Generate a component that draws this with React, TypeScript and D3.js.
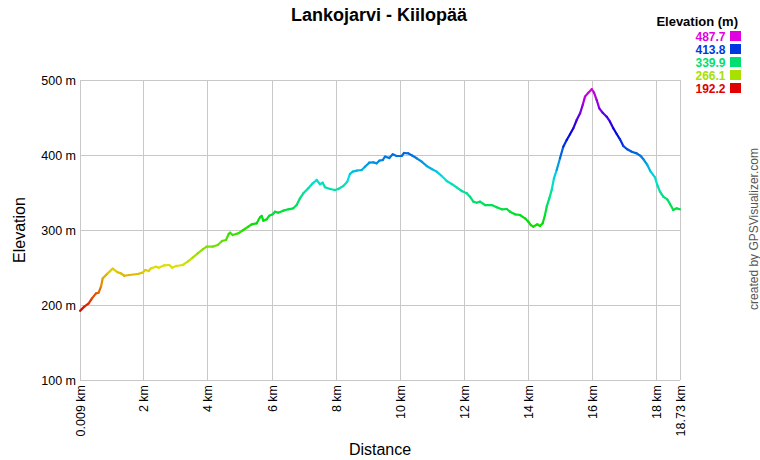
import React from "react";
import * as d3 from "d3";

const distKm = [
  0.009, 0.143, 0.28, 0.383, 0.508, 0.59, 0.664, 0.717, 0.873, 1.029, 1.185, 1.288, 1.391, 1.547, 1.809, 1.965,
  2.046, 2.152, 2.224, 2.38, 2.465, 2.639, 2.795, 2.88, 3.004, 3.213, 3.369, 3.525, 3.681, 3.837, 3.962,
  4.149, 4.305, 4.44, 4.564, 4.649, 4.689, 4.773, 4.876, 4.948, 5.104, 5.26, 5.366, 5.522, 5.625, 5.678,
  5.728, 5.834, 5.915, 6.021, 6.093, 6.196, 6.352, 6.508, 6.664, 6.77, 6.873, 6.976, 7.132, 7.27, 7.394,
  7.497, 7.582, 7.653, 7.809, 7.965, 8.068, 8.224, 8.349, 8.433, 8.518, 8.642, 8.798, 8.901, 9.036, 9.16,
  9.266, 9.347, 9.453, 9.525, 9.66, 9.766, 9.89, 10.046, 10.118, 10.252, 10.358, 10.515, 10.671, 10.826,
  10.983, 11.139, 11.295, 11.451, 11.607, 11.763, 11.919, 12.075, 12.178, 12.281, 12.386, 12.49, 12.645,
  12.855, 13.011, 13.167, 13.323, 13.425, 13.581, 13.737, 13.893, 13.997, 14.071, 14.152, 14.277, 14.361,
  14.446, 14.517, 14.571, 14.652, 14.726, 14.798, 14.883, 14.986, 15.089, 15.195, 15.298, 15.401, 15.507,
  15.612, 15.694, 15.766, 15.869, 15.975, 16.047, 16.131, 16.212, 16.318, 16.443, 16.546, 16.649, 16.755,
  16.858, 16.961, 17.086, 17.223, 17.379, 17.504, 17.607, 17.71, 17.815, 17.95, 18.021, 18.105, 18.208,
  18.333, 18.418, 18.521, 18.627, 18.73,
];

const elevM = [
  192.2, 197.8, 202.2, 208.9, 215.5, 216.4, 224.4, 235.5, 242.2, 248.5, 243.6, 242.2, 239, 240, 241.3, 243.1,
  246.7, 245.3, 248.9, 251.1, 249.8, 252.9, 253.3, 249.8, 252, 253.3, 257.8, 263.1, 268.9, 274.2, 277.8,
  277.8, 280, 285.3, 286.7, 294.7, 296.4, 293.3, 294.7, 295.6, 300, 304.4, 307.6, 308.9, 316.9, 318.7,
  312.4, 314.2, 319.1, 320.9, 324.4, 323.1, 325.8, 327.6, 328.9, 333.3, 342.2, 348.9, 355.6, 362.2, 366.7,
  361, 363.1, 356.9, 354.7, 353.3, 354.7, 358.7, 364.4, 374.7, 377.8, 379.1, 380, 384.4, 389.8, 390.2,
  388.9, 392.4, 393.3, 397.8, 396, 400.9, 398.7, 398.7, 402.7, 402.2, 399.6, 395.6, 391.1, 385.3,
  381.3, 377.8, 372, 365.3, 361.3, 356.9, 352, 348.9, 344.4, 337.8, 336.4, 337.8, 333.3,
  333.3, 330.2, 327.6, 328, 324.4, 320.9, 320, 315.6, 311.1, 306.7, 304.4, 307.6, 305.3,
  309, 320, 331.1, 342.2, 353.3, 368.9, 380, 395.6, 411.1, 420, 427.6, 435.6, 446.7,
  455.6, 466.7, 477.8, 483.1, 487.7, 483.1, 473.3, 462.2, 456.4, 451.1, 444.4, 435.6, 428,
  420.9, 412, 407.6, 404.4, 402.2, 398.7, 393.3, 386.7, 377.8, 370.2, 360, 351.1, 344.4,
  340.9, 334.7, 326.7, 328.9, 327.6,
];

const xTickValues = [0.009, 2, 4, 6, 8, 10, 12, 14, 16, 18, 18.73];
const xTickLabels = ["0.009 km", "2 km", "4 km", "6 km", "8 km", "10 km", "12 km", "14 km", "16 km", "18 km", "18.73 km"];
const yTickValues = [100, 200, 300, 400, 500];
const yTickLabels = ["100 m", "200 m", "300 m", "400 m", "500 m"];
const legendValues = [487.7, 413.8, 339.9, 266.1, 192.2];
const legendLabels = ["487.7", "413.8", "339.9", "266.1", "192.2"];

const W = 760;
const H = 460;
const M = { left: 80, right: 80, top: 80, bottom: 80 };
const FONT = "Arial, 'Liberation Sans', sans-serif";

export default function App() {
  const x = d3.scaleLinear().domain([0.009, 18.73]).range([M.left, W - M.right]);
  const y = d3.scaleLinear().domain([100, 500]).range([H - M.bottom, M.top]);
  const hue = d3.scaleLinear().domain([192.2, 487.7]).range([0, 300]).clamp(true);
  const color = (e: number) => d3.hsl(hue(e), 1, 0.44).formatHex();

  const segs = distKm.slice(1).map((d, i) => ({
    x1: x(distKm[i]),
    y1: y(elevM[i]),
    x2: x(d),
    y2: y(elevM[i + 1]),
    c: color((elevM[i] + elevM[i + 1]) / 2),
  }));

  return (
    <svg
      width={W}
      height={H}
      style={{ position: "absolute", left: 0, top: 0, background: "#fff" }}
      fontFamily={FONT}
    >
      <rect x={0} y={0} width={W} height={H} fill="#fff" />
      {/* grid */}
      <g stroke="#c8c8c8" strokeWidth={1} shapeRendering="crispEdges">
        {yTickValues.map((v) => (
          <line key={"h" + v} x1={x.range()[0]} x2={x.range()[1]} y1={y(v)} y2={y(v)} />
        ))}
        {xTickValues.map((v) => (
          <line key={"v" + v} x1={x(v)} x2={x(v)} y1={y.range()[1]} y2={y.range()[0]} />
        ))}
      </g>
      {/* y labels */}
      {yTickValues.map((v, i) => (
        <text key={"yl" + v} x={x.range()[0] - 4} y={y(v) + 4.5} textAnchor="end" fontSize={12.5} fill="#000">
          {yTickLabels[i]}
        </text>
      ))}
      {/* x labels */}
      {xTickValues.map((v, i) => (
        <text
          key={"xl" + v}
          transform={`translate(${x(v) + 4.5},${y.range()[0] + 5}) rotate(-90)`}
          textAnchor="end"
          fontSize={12.5}
          fill="#000"
        >
          {xTickLabels[i]}
        </text>
      ))}
      {/* line */}
      <g strokeWidth={2.2} strokeLinecap="round" fill="none">
        {segs.map((s, i) => (
          <line key={i} x1={s.x1} y1={s.y1} x2={s.x2} y2={s.y2} stroke={s.c} />
        ))}
      </g>
      {/* titles */}
      <text x={379} y={21} textAnchor="middle" fontSize={18} fontWeight="bold" fill="#000">
        Lankojarvi - Kiilopää
      </text>
      <text x={380} y={455} textAnchor="middle" fontSize={16} fill="#000">
        Distance
      </text>
      <text transform="translate(25,230) rotate(-90)" textAnchor="middle" fontSize={16} fill="#000">
        Elevation
      </text>
      <text transform="translate(758,229) rotate(-90)" textAnchor="middle" fontSize={12} fill="#555">
        created by GPSVisualizer.com
      </text>
      {/* legend */}
      <text x={738} y={26} textAnchor="end" fontSize={13} fontWeight="bold" fill="#000">
        Elevation (m)
      </text>
      {legendValues.map((v, i) => (
        <g key={"lg" + v}>
          <text x={725.5} y={40.5 + i * 13} textAnchor="end" fontSize={12} fontWeight="bold" fill={color(v)}>
            {legendLabels[i]}
          </text>
          <rect x={730} y={31 + i * 13} width={11} height={10} fill={color(v)} />
        </g>
      ))}
    </svg>
  );
}
